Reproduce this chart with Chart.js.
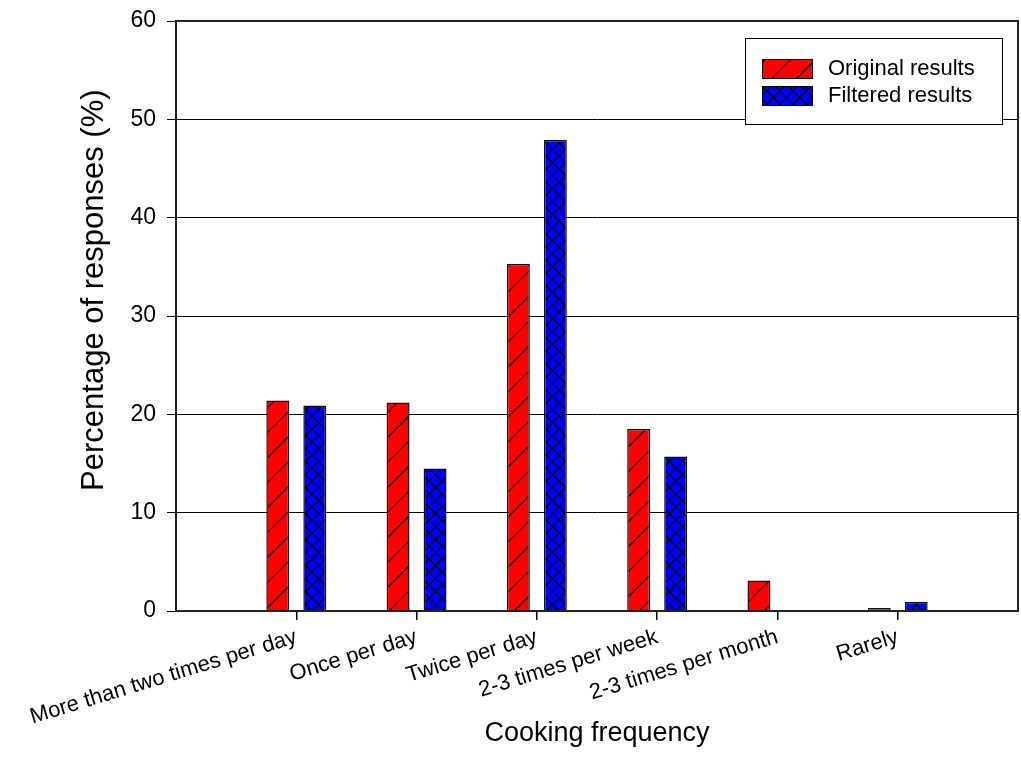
<!DOCTYPE html>
<html>
<head>
<meta charset="utf-8">
<script src="https://cdn.jsdelivr.net/npm/chart.js@4/dist/chart.umd.min.js"></script>
<style>
  body { margin: 0; background: #fff; }
  #wrap { width: 1021px; height: 761px; }
</style>
</head>
<body>
<div id="wrap"><canvas id="chart" width="1021" height="761"></canvas></div>
<script>
// Fréquence de cuisson
const categories = [
    'More than two times per day',
    'Once per day',
    'Twice per day',
    '2-3 times per week',
    '2-3 times per month',
    'Rarely'
];
const originalResults = [21.4, 21.2, 35.3, 18.5, 3.1, 0.3];
const filteredResults = [20.9, 14.5, 47.9, 15.7, 0, 0.95];
const yTicks = [0, 10, 20, 30, 40, 50, 60];

const FONT = "'Liberation Sans', Arial, sans-serif";

// axe x : une case vide de chaque côté (0 et 7)
const labels = [''].concat(categories, ['']);
const pad = arr => [null].concat(arr, [null]);

// motifs de hachures
function makePattern(bg, size, drawLines) {
    const c = document.createElement('canvas');
    c.width = size;
    c.height = size;
    const g = c.getContext('2d');
    g.fillStyle = bg;
    g.fillRect(0, 0, size, size);
    g.strokeStyle = '#000';
    g.lineWidth = 1.2;
    drawLines(g, size);
    return document.getElementById('chart').getContext('2d').createPattern(c, 'repeat');
}

const redHatch = makePattern('#ff0000', 25, (g, s) => {
    g.beginPath();
    g.moveTo(-1, s + 1);
    g.lineTo(s + 1, -1);
    g.stroke();
});

const blueHatch = makePattern('#0000ff', 13, (g, s) => {
    g.beginPath();
    g.moveTo(0, 0);
    g.lineTo(s, s);
    g.moveTo(0, s);
    g.lineTo(s, 0);
    g.stroke();
});

// cadre autour de la zone de tracé
const frame = {
    id: 'frame',
    afterDatasetsDraw(chart) {
        const { ctx, chartArea: a } = chart;
        ctx.save();
        ctx.strokeStyle = '#222';
        ctx.lineWidth = 2;
        ctx.strokeRect(a.left, a.top, a.right - a.left, a.bottom - a.top);
        ctx.restore();
    }
};

// légende dans un encadré blanc
const boxLegend = {
    id: 'boxLegend',
    afterDraw(chart) {
        const ctx = chart.ctx;
        const x = 745, y = 38, w = 257, h = 86;
        ctx.save();
        ctx.fillStyle = '#fff';
        ctx.fillRect(x, y, w, h);
        ctx.strokeStyle = '#000';
        ctx.lineWidth = 1;
        ctx.strokeRect(x + 0.5, y + 0.5, w, h);
        ctx.font = '22px ' + FONT;
        ctx.textBaseline = 'middle';
        chart.data.datasets.forEach((ds, i) => {
            const sy = 59 + i * 27;
            ctx.fillStyle = ds.backgroundColor;
            ctx.fillRect(762, sy, 50, 19);
            ctx.strokeStyle = '#000';
            ctx.strokeRect(762.5, sy + 0.5, 50, 19);
            ctx.fillStyle = '#000';
            ctx.fillText(ds.label, 828, sy + 10);
        });
        ctx.restore();
    }
};

new Chart(document.getElementById('chart'), {
    type: 'bar',
    data: {
        labels: labels,
        datasets: [
            {
                label: 'Original results',
                data: pad(originalResults),
                backgroundColor: redHatch,
                borderColor: '#111',
                borderWidth: 1.5
            },
            {
                label: 'Filtered results',
                data: pad(filteredResults),
                backgroundColor: blueHatch,
                borderColor: '#111',
                borderWidth: 1.5
            }
        ]
    },
    options: {
        responsive: false,
        animation: false,
        categoryPercentage: 0.615,
        barPercentage: 0.62,
        layout: { padding: { top: 21, right: 3, left: 0, bottom: 0 } },
        plugins: {
            legend: { display: false },
            tooltip: { enabled: false }
        },
        scales: {
            x: {
                offset: false,
                afterFit: s => {
                    s.height = 150;
                    s.paddingLeft = 0;
                    s.paddingRight = 0;
                },
                border: { display: true, color: '#222', width: 2 },
                grid: {
                    offset: false,
                    drawOnChartArea: false,
                    drawTicks: true,
                    tickLength: 9,
                    color: c => (c.index === 0 || c.index === labels.length - 1) ? 'rgba(0,0,0,0)' : '#000',
                    lineWidth: 1.5
                },
                ticks: {
                    autoSkip: false,
                    minRotation: 17,
                    maxRotation: 17,
                    padding: 4,
                    color: '#000',
                    font: { family: FONT, size: 22 }
                },
                title: {
                    display: true,
                    text: 'Cooking frequency',
                    color: '#000',
                    font: { family: FONT, size: 27 },
                    padding: { top: 0, bottom: 11 }
                }
            },
            y: {
                min: 0,
                max: 60,
                afterFit: s => {
                    s.width = 176;
                    s.paddingTop = 0;
                    s.paddingBottom = 0;
                },
                afterBuildTicks: s => { s.ticks = yTicks.map(v => ({ value: v })); },
                border: { display: true, color: '#222', width: 2 },
                grid: {
                    drawTicks: true,
                    tickLength: 9,
                    color: '#000',
                    lineWidth: 1
                },
                ticks: {
                    padding: 11,
                    color: '#000',
                    font: { family: FONT, size: 23 }
                },
                title: {
                    display: true,
                    text: '      Percentage of responses (%)',
                    color: '#000',
                    font: { family: FONT, size: 31 },
                    padding: { top: 76, bottom: 0 }
                }
            }
        }
    },
    plugins: [frame, boxLegend]
});
</script>
</body>
</html>
